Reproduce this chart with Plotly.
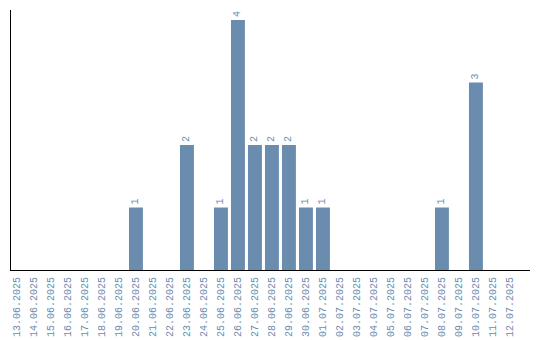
import plotly.graph_objects as go

dates = ["13.06.2025","14.06.2025","15.06.2025","16.06.2025","17.06.2025","18.06.2025",
         "19.06.2025","20.06.2025","21.06.2025","22.06.2025","23.06.2025","24.06.2025",
         "25.06.2025","26.06.2025","27.06.2025","28.06.2025","29.06.2025","30.06.2025",
         "01.07.2025","02.07.2025","03.07.2025","04.07.2025","05.07.2025","06.07.2025",
         "07.07.2025","08.07.2025","09.07.2025","10.07.2025","11.07.2025","12.07.2025"]
counts = [0,0,0,0,0,0,0,1,0,0,2,0,1,4,2,2,2,1,1,0,0,0,0,0,0,1,0,3,0,0]

labels = [str(v) if v > 0 else "" for v in counts]
bar_color = "#6a8caf"
font = "Liberation Mono"

fig = go.Figure(go.Bar(
    x=list(range(len(dates))), y=counts, marker_color=bar_color, marker_line_width=0,
    text=labels, textposition="outside", textangle=-90,
    textfont=dict(family=font, size=10, color=bar_color), cliponaxis=False,
))
fig.update_layout(
    width=540, height=340, margin=dict(l=11, r=10, t=10, b=70, autoexpand=False),
    paper_bgcolor="white", plot_bgcolor="white", bargap=0.18, showlegend=False,
    xaxis=dict(range=[-0.35, 30.18], tickmode="array", tickvals=list(range(len(dates))),
               ticktext=dates, tickangle=-90, showgrid=False, zeroline=False, automargin=False,
               showline=True, linecolor="black", linewidth=1, ticks="", ticklen=0,
               ticklabelstandoff=2,
               tickfont=dict(family=font, size=10, color=bar_color)),
    yaxis=dict(range=[0, 4.16], showgrid=False, zeroline=False, showticklabels=False,
               showline=True, linecolor="black", linewidth=1, ticks="", automargin=False),
)
fig.write_html("out.html")
